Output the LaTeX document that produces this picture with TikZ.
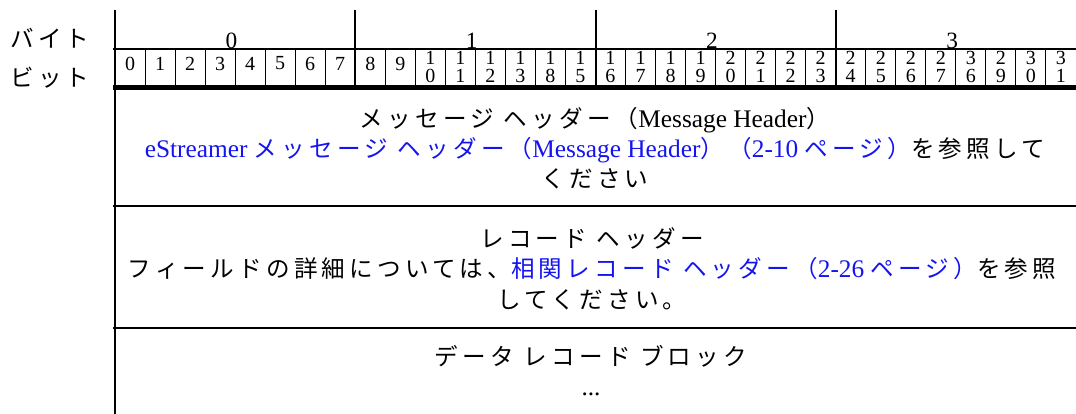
\documentclass[tikz,border=0pt]{standalone}
\usepackage{fontspec}
\setmainfont{Liberation Serif}
\newfontfamily\jp[Scale=0.93, LetterSpace=18]{Noto Sans CJK JP}
\usepackage{tikz}
\definecolor{link}{RGB}{20, 20, 240}

\begin{document}
\begin{tikzpicture}[x=0.75pt, y=-0.75pt, 
  every node/.style={inner sep=0, font=\fontsize{19}{23}\selectfont},
  bitnum/.style={align=center, font=\fontsize{15}{13.5}\selectfont},
]
  \useasboundingbox (0, 0) rectangle (1076, 414);

  \node (bytelabel) at (50, 38) {\jp バイト};
  \node (bitlabel) at (50, 78) {\jp ビット};

  %
  \foreach \n in {1, 2, ..., 31} {
    \draw[line width=0.75pt] ({115 + 30.03 * \n}, 49) -- +(0, 38);
  }
  \foreach \k in {1, 2, 3} {
    \draw[line width=1.5pt] ({115 + 240.25 * \k}, 10) -- +(0, 77);
  }
  \draw[line width=1.7pt] (115, 10) -- (115, 414);
  \draw[line width=1.5pt] (113, 49) -- (1076, 49);
  \draw[line width=4pt] (113, 87.5) -- (1076, 87.5);
  \draw[line width=1.7pt] (113, 206) -- (1076, 206);
  \draw[line width=1.7pt] (113, 328) -- (1076, 328);

  %
  \foreach \k in {0, 1, 2, 3} {
    \node[font=\fontsize{17.5}{20}\selectfont] (byte\k) 
      at ({115 + 240.25 * \k + 116.5}, 40.5) {\k};
  }

  \foreach \n in {0, 1, ..., 9} {
    \node[bitnum] (bit\n) at ({115 + 30.03 * (\n + 0.5)}, 63.5) {\n};
  }
  \foreach \n/\a/\b in {10/1/0, 11/1/1, 12/1/2, 13/1/3, 14/1/8, 15/1/5, 
                        16/1/6, 17/1/7, 18/1/8, 19/1/9, 20/2/0, 21/2/1, 
                        22/2/2, 23/2/3, 24/2/4, 25/2/5, 26/2/6, 27/2/7, 
                        28/3/6, 29/2/9, 30/3/0, 31/3/1} {
    \node[bitnum] (bit\n) at ({115 + 30.03 * (\n + 0.5)}, 67) {\a\\\b};
  }

  %
  \node[align=center, font=\fontsize{19}{22.5}\selectfont] (msghdr) at (595, 148.5) 
    {{\jp メッセージ ヘッダー（}Message Header{\jp ）}\\
     \textcolor{link}{eStreamer {\jp メッセージ ヘッダー（}Message Header{\jp ）（}2-10 {\jp ページ）}}{\jp を参照して}\\
     {\jp ください}};

  \node[align=center] (rechdr) at (592, 268.5) 
    {{\jp レコード ヘッダー}\\
     {\jp フィールドの詳細については、}\textcolor{link}{{\jp 相関レコード ヘッダー（}2-26 {\jp ページ）}}{\jp を参照}\\
     {\jp してください。}};

  \node[align=center, font=\fontsize{19}{22.5}\selectfont] (datablk) at (591, 371) 
    {{\jp データ レコード ブロック}\\ ...};

\end{tikzpicture}
\end{document}
